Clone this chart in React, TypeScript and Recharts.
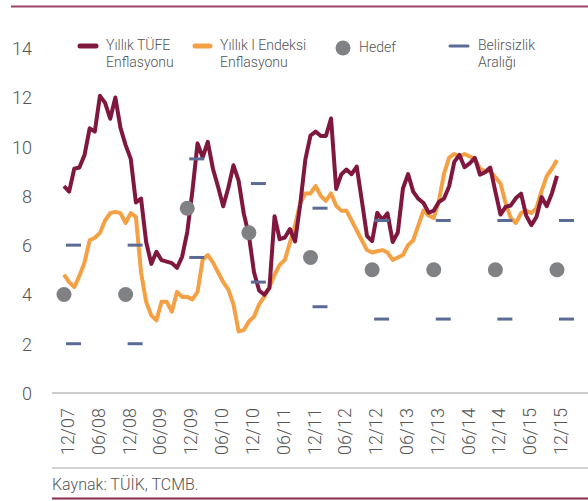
import { ComposedChart, Line, XAxis, YAxis } from 'recharts';

const months = [
  '12/07',
  '01/08', '02/08', '03/08', '04/08', '05/08', '06/08', '07/08', '08/08', '09/08', '10/08', '11/08', '12/08',
  '01/09', '02/09', '03/09', '04/09', '05/09', '06/09', '07/09', '08/09', '09/09', '10/09', '11/09', '12/09',
  '01/10', '02/10', '03/10', '04/10', '05/10', '06/10', '07/10', '08/10', '09/10', '10/10', '11/10', '12/10',
  '01/11', '02/11', '03/11', '04/11', '05/11', '06/11', '07/11', '08/11', '09/11', '10/11', '11/11', '12/11',
  '01/12', '02/12', '03/12', '04/12', '05/12', '06/12', '07/12', '08/12', '09/12', '10/12', '11/12', '12/12',
  '01/13', '02/13', '03/13', '04/13', '05/13', '06/13', '07/13', '08/13', '09/13', '10/13', '11/13', '12/13',
  '01/14', '02/14', '03/14', '04/14', '05/14', '06/14', '07/14', '08/14', '09/14', '10/14', '11/14', '12/14',
  '01/15', '02/15', '03/15', '04/15', '05/15', '06/15', '07/15', '08/15', '09/15', '10/15', '11/15', '12/15',
];

// Yıllık TÜFE enflasyonu (%)
const tufe = [
  8.39,
  8.17, 9.1, 9.15, 9.66, 10.74, 10.61, 12.06, 11.77, 11.13, 11.99, 10.76, 10.06,
  9.5, 7.73, 7.89, 6.13, 5.24, 5.73, 5.39, 5.33, 5.27, 5.08, 5.53, 6.53,
  8.19, 10.13, 9.56, 10.19, 9.1, 8.37, 7.58, 8.33, 9.24, 8.62, 7.29, 6.4,
  4.9, 4.16, 3.99, 4.26, 7.17, 6.24, 6.31, 6.65, 6.15, 7.66, 9.48, 10.45,
  10.61, 10.43, 10.43, 11.14, 8.28, 8.87, 9.07, 8.88, 9.19, 7.8, 6.37, 6.16,
  7.31, 7.03, 7.29, 6.13, 6.51, 8.3, 8.88, 8.17, 7.88, 7.71, 7.32, 7.4,
  7.75, 7.89, 8.39, 9.38, 9.66, 9.16, 9.32, 9.54, 8.86, 8.96, 9.15, 8.17,
  7.24, 7.55, 7.61, 7.91, 8.09, 7.2, 6.81, 7.14, 7.95, 7.58, 8.1, 8.81,
];

// Yıllık I endeksi enflasyonu (%)
const iEndeksi = [
  4.8,
  4.5, 4.3, 4.75, 5.3, 6.2, 6.3, 6.5, 7.0, 7.3, 7.35, 7.3, 6.9,
  7.3, 7.15, 4.9, 3.7, 3.15, 2.95, 3.7, 3.7, 3.3, 4.1, 3.9, 3.9,
  3.8, 4.1, 5.4, 5.6, 5.3, 4.9, 4.5, 4.2, 3.6, 2.5, 2.55, 2.9,
  3.1, 3.6, 3.9, 4.3, 4.8, 5.2, 5.4, 6.1, 6.8, 7.7, 8.1, 8.1,
  8.4, 8.0, 7.8, 8.1, 7.6, 7.4, 7.4, 7.0, 6.6, 6.2, 5.8, 5.7,
  5.75, 5.8, 5.7, 5.4, 5.5, 5.6, 6.0, 6.2, 6.8, 7.4, 7.2, 7.1,
  7.8, 8.9, 9.55, 9.7, 9.6, 9.7, 9.6, 9.5, 9.1, 9.0, 9.0, 8.75,
  8.5, 7.7, 7.1, 6.9, 7.3, 7.4, 7.3, 7.5, 8.2, 8.8, 9.1, 9.45,
];

const targetMonths = ['12/07', '12/08', '12/09', '12/10', '12/11', '12/12', '12/13', '12/14', '12/15'];
const targets = [4, 4, 7.5, 6.5, 5.5, 5, 5, 5, 5];
const bandLow = [2, 2, 5.5, 4.5, 3.5, 3, 3, 3, 3];
const bandHigh = [6, 6, 9.5, 8.5, 7.5, 7, 7, 7, 7];

const yTicks = [0, 2, 4, 6, 8, 10, 12, 14];

const data = months.map((month, i) => {
  const t = targetMonths.indexOf(month);
  return {
    month,
    tufe: tufe[i],
    iEndeksi: iEndeksi[i],
    hedef: t >= 0 ? targets[t] : null,
    low: t >= 0 ? bandLow[t] : null,
    high: t >= 0 ? bandHigh[t] : null,
  };
});

const MAROON = '#80173f';
const ORANGE = '#f4a044';
const GREY = '#808184';
const BAND = '#5b6b95';
const TEXT = '#555555';
const FONT = 'Roboto, "Noto Sans", sans-serif';

function YTick({ y, payload }: any) {
  return (
    <text x={32} y={y + 7} textAnchor="end" fontSize={18} fill={TEXT} fontFamily={FONT} fontWeight={300}>
      {payload.value}
    </text>
  );
}

function XTick({ x, payload }: any) {
  const bx = x + 10;
  return (
    <text
      x={bx}
      y={408}
      transform={`rotate(-90 ${bx} 408)`}
      textAnchor="end"
      fontSize={18}
      fill={TEXT}
      fontFamily={FONT}
      fontWeight={300}
    >
      {payload.value}
    </text>
  );
}

const renderDash = (props: any) => {
  const { cx, cy, index, value } = props;
  if (value == null || cy == null || !Number.isFinite(cy)) return <g key={`dash-${index}`} />;
  return (
    <line key={`dash-${index}`} x1={cx + 2} x2={cx + 17} y1={cy} y2={cy} stroke={BAND} strokeWidth={3} />
  );
};

function Overlay() {
  const txt = { fontSize: 14, fill: TEXT, fontFamily: FONT, fontWeight: 300 } as const;
  return (
    <svg width={588} height={501} style={{ position: 'absolute', left: 0, top: 0, pointerEvents: 'none' }}>
      <line x1={11} x2={588} y1={6.5} y2={6.5} stroke="#9b4468" strokeWidth={2} />

      <line x1={80} x2={96} y1={46} y2={46} stroke={MAROON} strokeWidth={5} strokeLinecap="round" />
      <text x={106} y={50} {...txt}>Yıllık TÜFE</text>
      <text x={106} y={67} {...txt}>Enflasyonu</text>

      <line x1={195} x2={210} y1={46} y2={46} stroke={ORANGE} strokeWidth={5} strokeLinecap="round" />
      <text x={220} y={50} {...txt}>Yıllık I Endeksi</text>
      <text x={220} y={67} {...txt}>Enflasyonu</text>

      <circle cx={343} cy={48} r={7.5} fill={GREY} />
      <text x={359} y={52} {...txt}>Hedef</text>

      <line x1={450} x2={468} y1={46} y2={46} stroke={BAND} strokeWidth={3} strokeLinecap="round" />
      <text x={478} y={50} {...txt}>Belirsizlik</text>
      <text x={478} y={67} {...txt}>Aralığı</text>

      <line x1={52} x2={588} y1={468} y2={468} stroke="#c4c4c4" strokeWidth={1.5} />
      <text x={52} y={490} fontSize={16} fill={TEXT} fontFamily={FONT} fontWeight={300}>
        Kaynak: TÜİK, TCMB.
      </text>
      <line x1={52} x2={588} y1={498.5} y2={498.5} stroke="#8a2a52" strokeWidth={2} />
    </svg>
  );
}

export default function App() {
  return (
    <div style={{ position: 'relative', width: 588, height: 501, background: '#fff' }}>
      <style>{'body{margin:0}'}</style>
      <ComposedChart width={588} height={501} data={data} margin={{ top: 48, right: 0, bottom: 0, left: 0 }}>
        <XAxis
          dataKey="month"
          interval={5}
          padding={{ left: 12, right: 31 }}
          height={108}
          tickLine={false}
          axisLine={{ stroke: '#bdbdbd', strokeWidth: 1.5 }}
          tick={<XTick />}
        />
        <YAxis
          domain={[0, 14]}
          ticks={yTicks}
          width={52}
          axisLine={false}
          tickLine={false}
          tick={<YTick />}
        />
        <Line
          type="linear"
          dataKey="iEndeksi"
          stroke={ORANGE}
          strokeWidth={4}
          strokeLinejoin="round"
          dot={false}
          activeDot={false}
          isAnimationActive={false}
        />
        <Line
          type="linear"
          dataKey="tufe"
          stroke={MAROON}
          strokeWidth={4}
          strokeLinejoin="round"
          dot={false}
          activeDot={false}
          isAnimationActive={false}
        />
        <Line
          dataKey="hedef"
          stroke="none"
          dot={{ r: 7.5, fill: GREY, stroke: 'none', strokeWidth: 0 }}
          activeDot={false}
          isAnimationActive={false}
        />
        <Line dataKey="low" stroke="none" dot={renderDash} activeDot={false} isAnimationActive={false} />
        <Line dataKey="high" stroke="none" dot={renderDash} activeDot={false} isAnimationActive={false} />
      </ComposedChart>
      <Overlay />
    </div>
  );
}
